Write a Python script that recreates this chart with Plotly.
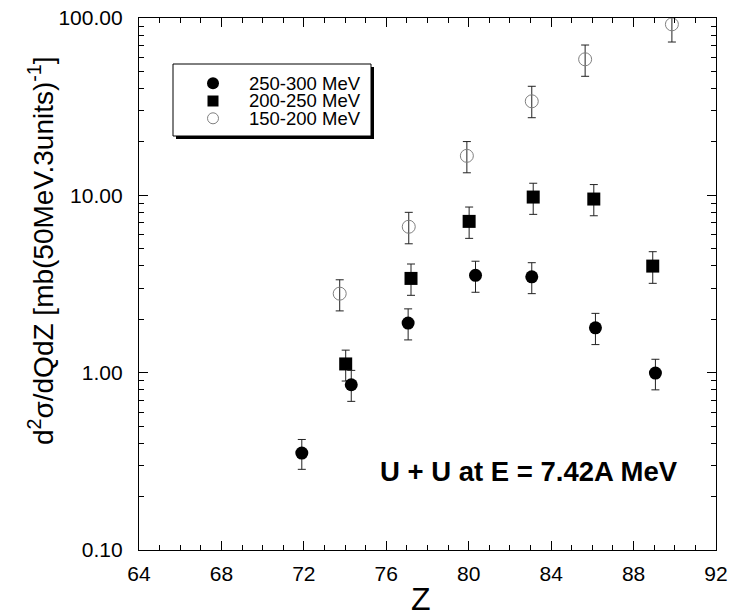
import plotly.graph_objects as go

# ---- data ----
z_hi = [71.9, 74.3, 77.06, 80.33, 83.06, 86.15, 89.06]
v_hi = [0.352, 0.855, 1.905, 3.54, 3.47, 1.79, 0.995]
up_hi = [0.42, 1.03, 2.29, 4.25, 4.17, 2.16, 1.19]
lo_hi = [0.285, 0.689, 1.53, 2.84, 2.79, 1.44, 0.80]

z_mid = [74.03, 77.2, 80.02, 83.13, 86.07, 88.93]
v_mid = [1.12, 3.40, 7.13, 9.78, 9.53, 3.99]
up_mid = [1.34, 4.10, 8.59, 11.7, 11.5, 4.81]
lo_mid = [0.897, 2.73, 5.72, 7.81, 7.67, 3.19]

z_lo = [73.74, 77.09, 79.91, 83.06, 85.65, 89.86]
v_lo = [2.79, 6.65, 16.7, 33.9, 58.5, 92.1]
up_lo = [3.34, 8.02, 20.1, 41.2, 70.4, 110.0]
lo_lo = [2.23, 5.33, 13.4, 27.4, 46.9, 73.2]

series_names = ["250-300 MeV", "200-250 MeV", "150-200 MeV"]
x_ticks = [64, 68, 72, 76, 80, 84, 88, 92]
y_ticks = [0.1, 1, 10, 100]
y_ticktext = ["0.10", "1.00", "10.00", "100.00"]
y_minor = [m * d for d in (0.1, 1, 10) for m in range(2, 10)]

FONT = "Liberation Sans, Arial, Helvetica, sans-serif"
W, H = 731, 616
L, R, T, B = 139, 716, 18, 550


def px(x):
    return (x - L) / (R - L)


def py(y):
    return (B - y) / (B - T)


def err(v, up, lo):
    return dict(type="data", symmetric=False,
                array=[u - a for a, u in zip(v, up)],
                arrayminus=[a - l for a, l in zip(v, lo)],
                color="#222", thickness=1, width=4)


fig = go.Figure()
fig.add_trace(go.Scatter(x=z_lo, y=v_lo, mode="markers", name=series_names[2],
                         marker=dict(symbol="circle-open", size=13, color="#808080",
                                     line=dict(width=1, color="#808080")),
                         error_y=err(v_lo, up_lo, lo_lo), showlegend=False))
fig.add_trace(go.Scatter(x=z_mid, y=v_mid, mode="markers", name=series_names[1],
                         marker=dict(symbol="square", size=13, color="black"),
                         error_y=err(v_mid, up_mid, lo_mid), showlegend=False))
fig.add_trace(go.Scatter(x=z_hi, y=v_hi, mode="markers", name=series_names[0],
                         marker=dict(symbol="circle", size=13, color="black"),
                         error_y=err(v_hi, up_hi, lo_hi), showlegend=False))

shapes = []
# legend box with shadow
shapes.append(dict(type="rect", xref="paper", yref="paper",
                   x0=px(176), x1=px(374), y0=py(139), y1=py(67),
                   fillcolor="black", line=dict(width=0)))
shapes.append(dict(type="rect", xref="paper", yref="paper",
                   x0=px(173), x1=px(371), y0=py(136), y1=py(64),
                   fillcolor="white", line=dict(width=1, color="black")))
rows = [83.3, 101.0, 118.3]
sym_x = px(213)
shapes.append(dict(type="circle", xref="paper", yref="paper", xsizemode="pixel", ysizemode="pixel",
                   xanchor=sym_x, yanchor=py(rows[0]), x0=-6, x1=6, y0=-6, y1=6,
                   fillcolor="black", line=dict(width=0)))
shapes.append(dict(type="rect", xref="paper", yref="paper", xsizemode="pixel", ysizemode="pixel",
                   xanchor=sym_x, yanchor=py(rows[1]), x0=-5.5, x1=5.5, y0=-5.5, y1=5.5,
                   fillcolor="black", line=dict(width=0)))
shapes.append(dict(type="circle", xref="paper", yref="paper", xsizemode="pixel", ysizemode="pixel",
                   xanchor=sym_x, yanchor=py(rows[2]), x0=-5.5, x1=5.5, y0=-5.5, y1=5.5,
                   fillcolor="white", line=dict(width=1, color="#808080")))

annotations = []
for name, r in zip(series_names, rows):
    annotations.append(dict(text=name, xref="paper", yref="paper", x=px(247), y=py(r),
                            xanchor="left", yanchor="middle", showarrow=False,
                            font=dict(family=FONT, size=18.5, color="black")))
annotations.append(dict(text="<b>U + U at E = 7.42A MeV</b>", xref="paper", yref="paper",
                        x=px(528.5), y=py(471), xanchor="center", yanchor="middle",
                        showarrow=False, font=dict(family=FONT, size=27.5, color="black")))
annotations.append(dict(text="d<sup>2</sup>σ/dQdZ [mb(50MeV.3units)<sup>-1</sup>]",
                        xref="paper", yref="paper", x=px(41), y=py(251), textangle=-90,
                        xanchor="center", yanchor="middle", showarrow=False,
                        font=dict(family=FONT, size=28, color="black")))
annotations.append(dict(text="Z", xref="paper", yref="paper", x=px(421), y=py(599),
                        xanchor="center", yanchor="middle", showarrow=False,
                        font=dict(family=FONT, size=32, color="black")))

fig.update_layout(
    width=W, height=H, autosize=False,
    margin=dict(l=L, r=W - R, t=T, b=H - B, pad=0, autoexpand=False),
    paper_bgcolor="white", plot_bgcolor="white",
    font=dict(family=FONT, color="black"),
    shapes=shapes, annotations=annotations, showlegend=False,
)
fig.update_xaxes(range=[64, 92], tickvals=x_ticks, ticks="inside", ticklen=9, tickwidth=1,
                 tickcolor="black", showline=True, linecolor="black", linewidth=1.3,
                 mirror="ticks", showgrid=False, zeroline=False, automargin=False,
                 tickfont=dict(size=21, family=FONT), ticklabelstandoff=5,
                 minor=dict(dtick=1, ticks="inside", ticklen=5, tickcolor="black", showgrid=False))
fig.update_yaxes(type="log", range=[-1, 2], tickvals=y_ticks, ticktext=y_ticktext,
                 ticks="inside", ticklen=9, tickwidth=1, tickcolor="black",
                 showline=True, linecolor="black", linewidth=1.3, mirror="ticks",
                 showgrid=False, zeroline=False, automargin=False,
                 tickfont=dict(size=21, family=FONT), ticklabelstandoff=11,
                 minor=dict(tickvals=y_minor, ticks="inside", ticklen=5, tickcolor="black",
                            showgrid=False))

fig.write_html("out.html",
               config={"displayModeBar": False, "responsive": False},
               post_script="document.body.style.margin='0';document.body.style.overflow='hidden';")
